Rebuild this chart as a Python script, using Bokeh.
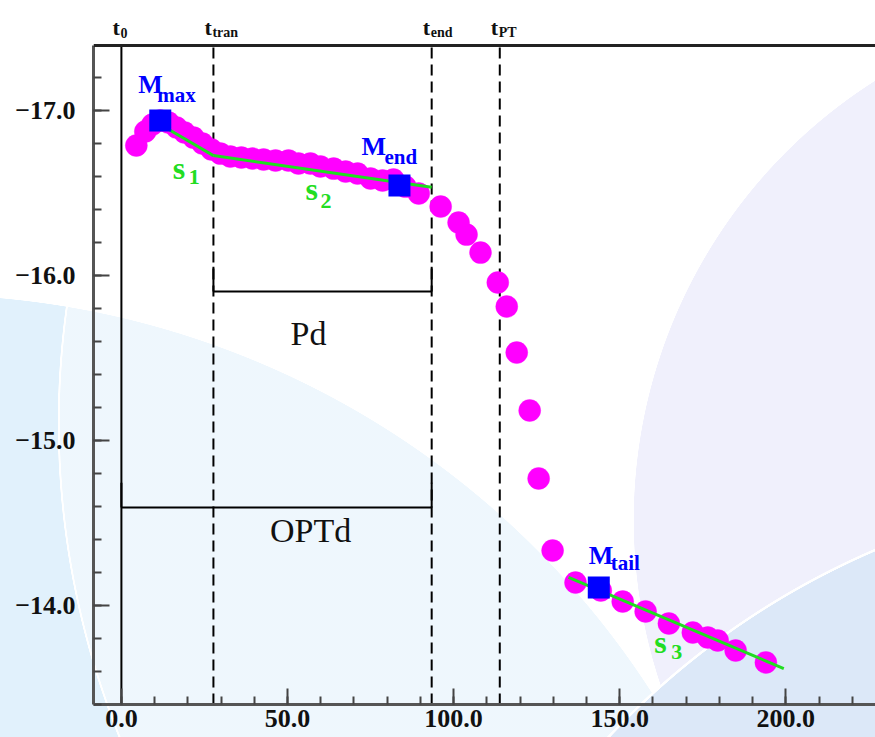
from bokeh.plotting import figure
from bokeh.models import (Range1d, Span, Label, SingleIntervalTicker, CustomJSTickFormatter)
from bokeh.embed import file_html
from bokeh.resources import INLINE

# ---------------- data ----------------
days = [4.5, 7.2, 9.3, 11.7, 14.2, 16.6, 19.0, 21.7, 24.4, 27.1, 29.8, 32.8, 36.1,
        39.5, 42.8, 46.4, 50.3, 53.3, 56.9, 59.9, 63.9, 67.5, 71.1, 75.0, 78.6,
        81.9, 85.5, 89.5, 96.1, 101.5, 103.9, 108.1, 113.3, 116.0, 119.0, 122.9,
        125.6, 129.8, 136.7, 144.3, 150.9, 157.8, 164.8, 172.0, 176.5, 179.5,
        184.9, 194.0]
mags = [-16.788, -16.873, -16.915, -16.939, -16.927, -16.897, -16.867, -16.836,
        -16.800, -16.764, -16.739, -16.721, -16.715, -16.709, -16.703, -16.697,
        -16.697, -16.679, -16.679, -16.661, -16.648, -16.630, -16.618, -16.588,
        -16.576, -16.582, -16.539, -16.497, -16.418, -16.321, -16.248, -16.139,
        -15.958, -15.812, -15.533, -15.182, -14.770, -14.333, -14.139, -14.091,
        -14.024, -13.964, -13.891, -13.836, -13.806, -13.788, -13.727, -13.655]

t_names = ["0", "tran", "end", "PT"]
t_values = [0.0, 27.7, 93.4, 113.9]

key_names = ["max", "end", "tail"]
key_days = [11.7, 83.7, 143.7]
key_mags = [-16.94, -16.545, -14.109]

slope_names = ["1", "2", "3"]
slope_x0 = [11.7, 27.7, 134.6]
slope_y0 = [-16.915, -16.727, -14.17]
slope_x1 = [27.7, 93.4, 199.4]
slope_y1 = [-16.727, -16.535, -13.618]

period_names = ["Pd", "OPTd"]
period_start = [27.7, 0.0]
period_end = [93.4, 93.4]
period_level = [-15.903, -14.594]

# axis extent (the box), and the visible range including the label strip on top
X_MIN, X_MAX = -8.4, 227.0
Y_BOTTOM, Y_TOP = -13.4, -17.394
Y_CANVAS_TOP = -17.667

# ---------------- figure ----------------
p = figure(width=875, height=737,
           x_range=Range1d(X_MIN, X_MAX), y_range=Range1d(Y_BOTTOM, Y_CANVAS_TOP),
           output_backend="svg", toolbar_location=None,
           min_border_left=93, min_border_right=0, min_border_top=0, min_border_bottom=33,
           background_fill_color=None, border_fill_color=None, outline_line_color=None)
p.grid.visible = False

bg = ", ".join([
    "radial-gradient(circle at 1189px 1281px, #dce8f8 0px, #dce8f8 794px, #ffffff 794.5px, #ffffff 796.5px, rgba(255,255,255,0) 797px)",
    "radial-gradient(circle at 1154px 520px, #f0f0fc 0px, #f0f0fc 520px, #ffffff 520.5px, #ffffff 522px, rgba(255,255,255,0) 522.5px)",
    "radial-gradient(circle at 900px 423px, rgba(255,255,255,0.45) 0px, rgba(255,255,255,0.45) 840px, #ffffff 840.5px, #ffffff 842px, rgba(255,255,255,0) 842.5px)",
    "radial-gradient(circle at -77px 1161px, #e1f1fc 0px, #e1f1fc 866px, rgba(255,255,255,0) 866.5px)",
])
p.styles = {"background-color": "#ffffff", "background-image": bg}

fmt = CustomJSTickFormatter(code="return (tick < 0 ? '\u2212' : '') + Math.abs(tick).toFixed(1);")

def style_axis(ax):
    ax.axis_line_color = "#555555"
    ax.axis_line_width = 3
    ax.major_tick_in = 16
    ax.major_tick_out = 0
    ax.minor_tick_in = 8
    ax.minor_tick_out = 0
    ax.major_tick_line_color = "#444444"
    ax.major_tick_line_width = 2
    ax.minor_tick_line_color = "#444444"
    ax.minor_tick_line_width = 2
    ax.major_label_text_font = "Liberation Serif"
    ax.major_label_text_font_style = "bold"
    ax.major_label_text_font_size = "26px"
    ax.major_label_text_color = "#111111"
    ax.formatter = fmt

p.xaxis.ticker = SingleIntervalTicker(interval=50, num_minor_ticks=5)
p.yaxis.ticker = SingleIntervalTicker(interval=1, num_minor_ticks=5)
for ax in p.xaxis:
    style_axis(ax)
    ax.major_label_standoff = 5
for ax in p.yaxis:
    style_axis(ax)
    ax.major_label_standoff = 18
    ax.bounds = (Y_TOP, Y_BOTTOM)

# top edge of the box
p.add_layout(Span(location=Y_TOP, dimension="width", line_color="#222222", line_width=3))

# time markers: t0 solid, the others dashed
p.segment(t_values[:1], [Y_BOTTOM], t_values[:1], [Y_TOP], line_color="black", line_width=2)
p.segment(t_values[1:], [Y_BOTTOM] * 3, t_values[1:], [Y_TOP] * 3,
          line_color="black", line_width=2, line_dash="11 6")

# period brackets
p.segment(period_start, period_level, period_end, period_level, line_color="black", line_width=2)
cap_x = period_start + period_end
cap_y = period_level + period_level
p.segment(cap_x, cap_y, cap_x, [v - 0.15 for v in cap_y], line_color="black", line_width=2)

p.scatter(days, mags, size=22, fill_color="#ff00ff", line_color="#ff00ff", line_alpha=0.4)
p.segment(slope_x0, slope_y0, slope_x1, slope_y1, line_color="#22dd22", line_width=3)
p.scatter(key_days, key_mags, marker="square", size=22, fill_color="#0000ff", line_color=None)

SERIF = "Liberation Serif"

def lab(x, y, text, size, color, xo=0, yo=0, style="bold", align="left"):
    p.add_layout(Label(x=x, y=y, text=text, text_font=SERIF, text_font_style=style,
                       text_font_size=size, text_color=color, x_offset=xo, y_offset=yo,
                       text_baseline="alphabetic", text_align=align))

# t labels above the box
for name, t in zip(t_names, t_values):
    lab(t, Y_TOP, "t", "22px", "#111111", xo=-9, yo=18)
    lab(t, Y_TOP, name, "14px", "#111111", xo=-1, yo=13)

# M labels
m_offsets = [(-22, 36, -3, 25), (-38, 39, -15, 29), (-10, 32, 12, 25)]
for name, x, y, (mx, my, sx, sy) in zip(key_names, key_days, key_mags, m_offsets):
    lab(x, y, "M", "26px", "#0000ff", xo=mx, yo=my)
    lab(x, y, name, "21px", "#0000ff", xo=sx, yo=sy)

# s labels at segment midpoints
s_offsets = [(-14, -28, 2, -37), (-17, -18, -2, -30), (-22, -19, -5, -29)]
for name, x0, y0, x1, y1, (ax_, ay, bx, by) in zip(slope_names, slope_x0, slope_y0,
                                                    slope_x1, slope_y1, s_offsets):
    mx, my = (x0 + x1) / 2, (y0 + y1) / 2
    lab(mx, my, "s", "32px", "#22dd22", xo=ax_, yo=ay)
    lab(mx, my, name, "22px", "#22dd22", xo=bx, yo=by)

# period names
p_offsets = [(-14, -42), (34, -23)]
for name, a, b, lvl, (xo, yo) in zip(period_names, period_start, period_end, period_level, p_offsets):
    lab((a + b) / 2, lvl, name, "34px", "#111111", xo=xo, yo=yo, style="normal", align="center")

open("out.html", "w").write(file_html(p, INLINE))
